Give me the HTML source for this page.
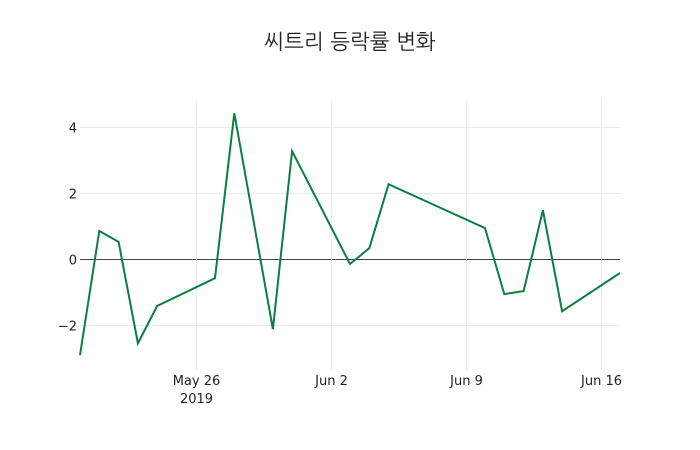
<!DOCTYPE html>
<html><head><meta charset="utf-8"><style>
html,body{margin:0;padding:0;background:#fff;}
svg{display:block;font-family:"DejaVu Sans","Liberation Sans","NanumGothic","Noto Sans CJK KR",sans-serif;}
</style></head><body>
<svg id="chart" width="700" height="450">
<text x="350" y="49" text-anchor="middle" font-size="21" fill="#222">씨트리 등락률 변화</text>
<g id="grid"></g>
<g id="axes"></g>
<path id="line" fill="none" stroke="#0a7f3f" stroke-width="2"></path>
</svg>
<script>
const dates = ["2019-05-20","2019-05-21","2019-05-22","2019-05-23","2019-05-24","2019-05-27","2019-05-28","2019-05-30","2019-05-31","2019-06-03","2019-06-04","2019-06-05","2019-06-10","2019-06-11","2019-06-12","2019-06-13","2019-06-14","2019-06-17"];
const values = [-2.91,0.85,0.52,-2.55,-1.42,-0.58,4.42,-2.12,3.27,-0.15,0.33,2.27,0.94,-1.06,-0.97,1.48,-1.58,-0.42];
const yTicks = [-2,0,2,4];
const xTickDates = ["2019-05-26","2019-06-02","2019-06-09","2019-06-16"];
const xTickLabels = ["May 26","Jun 2","Jun 9","Jun 16"];

const L=80,R=620,T=100,B=370;
const x0=Date.parse("2019-05-20"), x1=Date.parse("2019-06-17");
const yMin=-3.36, yMax=4.82;
const xs=d=>L+(Date.parse(d)-x0)/(x1-x0)*(R-L);
const ys=v=>B-(v-yMin)/(yMax-yMin)*(B-T);
const NS="http://www.w3.org/2000/svg";
const grid=document.getElementById('grid'), axes=document.getElementById('axes');
function mk(tag,attrs,parent){const e=document.createElementNS(NS,tag);for(const k in attrs)e.setAttribute(k,attrs[k]);parent.appendChild(e);return e;}
yTicks.forEach(v=>{
  const y=Math.round(ys(v))+0.5;
  const ln=mk('line',{x1:L,x2:R,y1:y,y2:y,stroke:v===0?'#444':'#ebebeb','stroke-width':1},grid);
  
  
  const t=mk('text',{x:L-3,y:y+5,'text-anchor':'end','font-size':13,fill:'#222'},axes);
  t.textContent=v<0?'\u2212'+Math.abs(v):String(v);
  
  
});
xTickDates.forEach((d,i)=>{
  const x=Math.round(xs(d))+0.5;
  const ln=mk('line',{x1:x,x2:x,y1:T,y2:B,stroke:'#ebebeb','stroke-width':1},grid);
  
  
  const t=mk('text',{x:x,y:B+15,'text-anchor':'middle','font-size':13,fill:'#222'},axes);
  t.textContent=xTickLabels[i];
  
  
  if(i===0){
    const y=mk('text',{x:x,y:B+33,'text-anchor':'middle','font-size':13,fill:'#222'},axes);
    y.textContent='2019';
    
    
  }
});
document.getElementById('line').setAttribute('d',dates.map((d,i)=>(i?'L':'M')+xs(d).toFixed(1)+','+ys(values[i]).toFixed(1)).join(''));
</script>
</body></html>
